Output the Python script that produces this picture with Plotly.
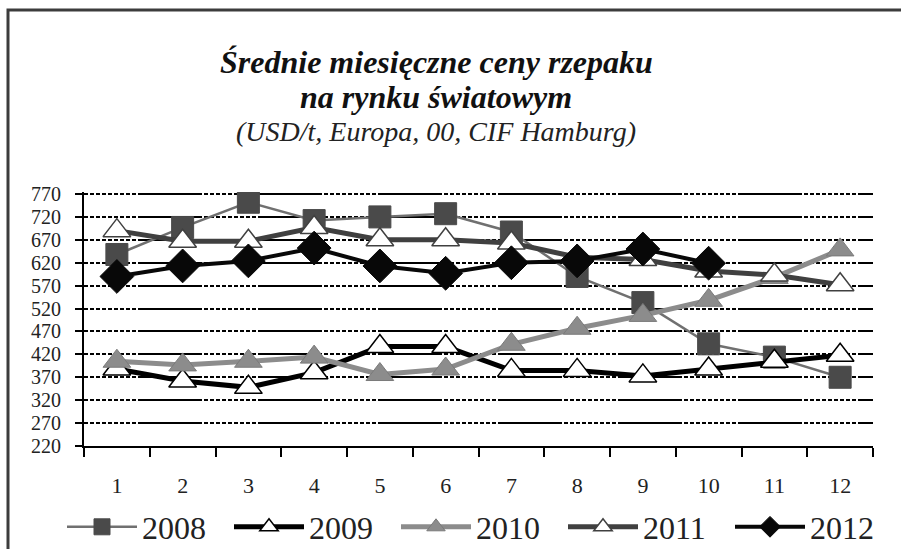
import plotly.graph_objects as go

months = list(range(1, 13))
month_labels = [str(m) for m in months]
y_ticks = [220, 270, 320, 370, 420, 470, 520, 570, 620, 670, 720, 770]

s2008 = [638, 697, 752, 712, 720, 727, 687, 590, 533, 443, 414, 370]
s2009 = [388, 362, 348, 380, 437, 437, 385, 385, 373, 388, 405, 418]
s2010 = [405, 397, 405, 414, 376, 388, 442, 477, 505, 538, 588, 648]
s2011 = [690, 667, 667, 697, 670, 670, 663, 632, 627, 602, 593, 572]
s2012 = [590, 613, 624, 652, 613, 597, 620, 624, 650, 619, None, None]

FONT = "Liberation Serif"

# plot area geometry (px)
L, R, T, B = 84, 28, 192, 103
W, H = 901, 549
PW = W - L - R
PH = H - T - B


def px_x(p):
    return (p - L) / PW


def px_y(q):
    return (H - B - q) / PH


fig = go.Figure()

fig.add_trace(go.Scatter(
    x=months, y=s2008, name="2008", mode="lines+markers",
    line=dict(color="#707070", width=2.5),
    marker=dict(symbol="square", size=22, color="#4a4a4a",
                line=dict(color="#4a4a4a", width=1))))
fig.add_trace(go.Scatter(
    x=months, y=s2009, name="2009", mode="lines+markers",
    line=dict(color="#000000", width=5),
    marker=dict(symbol="triangle-up", size=24, color="#ffffff",
                line=dict(color="#000000", width=1.5))))
fig.add_trace(go.Scatter(
    x=months, y=s2010, name="2010", mode="lines+markers",
    line=dict(color="#8c8c8c", width=5),
    marker=dict(symbol="triangle-up", size=24, color="#8c8c8c",
                line=dict(color="#7a7a7a", width=1))))
fig.add_trace(go.Scatter(
    x=months, y=s2011, name="2011", mode="lines+markers",
    line=dict(color="#404040", width=5),
    marker=dict(symbol="triangle-up", size=24, color="#ffffff",
                line=dict(color="#404040", width=1.5))))
fig.add_trace(go.Scatter(
    x=months, y=s2012, name="2012", mode="lines+markers",
    line=dict(color="#080808", width=4),
    marker=dict(symbol="diamond", size=26, color="#080808",
                line=dict(color="#080808", width=1))))

grid_dash = ",".join(["4px,2px"] * 9) + ",64px,2px"

fig.update_layout(
    width=W, height=H,
    margin=dict(l=L, r=R, t=T, b=B, autoexpand=False),
    paper_bgcolor="white", plot_bgcolor="white",
    font=dict(family=FONT, color="#222222"),
    showlegend=True,
    legend=dict(orientation="h", x=px_x(62), y=px_y(527),
                xanchor="left", yanchor="middle",
                font=dict(family=FONT, size=32, color="#222222"),
                itemwidth=70, entrywidth=82, tracegroupgap=0,
                bgcolor="rgba(0,0,0,0)"),
    xaxis=dict(
        range=[0.5, 12.5], tickmode="array", tickvals=months,
        ticktext=month_labels, ticks="", showgrid=False, zeroline=False,
        showline=True, linecolor="#000000", linewidth=2,
        tickfont=dict(family=FONT, size=22, color="#222222"),
        ticklabelstandoff=19,
        minor=dict(tickmode="array",
                   tickvals=[m - 0.5 for m in months] + [12.5],
                   ticks="outside", ticklen=9, tickwidth=2,
                   tickcolor="#000000", showgrid=False),
    ),
    yaxis=dict(
        range=[220, 220 + PH / (252 / 550)], tickmode="array",
        tickvals=y_ticks, ticktext=[str(v) for v in y_ticks],
        ticks="outside", ticklen=7, tickwidth=2, tickcolor="#000000",
        showline=True, linecolor="#000000", linewidth=2,
        showgrid=True, gridcolor="#000000", gridwidth=1.5,
        griddash=grid_dash, zeroline=False,
        tickfont=dict(family=FONT, size=20, color="#222222"),
        ticklabelstandoff=10,
    ),
)

title_x = px_x(436)
fig.add_annotation(text="<b><i>Średnie miesięczne ceny rzepaku</i></b>",
                   xref="paper", yref="paper", x=title_x, y=px_y(62),
                   xanchor="center", yanchor="middle", showarrow=False,
                   font=dict(family=FONT, size=32, color="#111111"))
fig.add_annotation(text="<b><i>na rynku światowym</i></b>",
                   xref="paper", yref="paper", x=title_x, y=px_y(97),
                   xanchor="center", yanchor="middle", showarrow=False,
                   font=dict(family=FONT, size=32, color="#111111"))
fig.add_annotation(text="<i>(USD/t, Europa, 00, CIF Hamburg)</i>",
                   xref="paper", yref="paper", x=title_x, y=px_y(131),
                   xanchor="center", yanchor="middle", showarrow=False,
                   font=dict(family=FONT, size=28, color="#222222"))

# outer frame (top and left edges visible in the reference)
fig.add_shape(type="rect", xref="paper", yref="paper",
              x0=px_x(8), x1=px_x(915), y0=px_y(565), y1=px_y(10),
              line=dict(color="#3c3c3c", width=3), fillcolor="rgba(0,0,0,0)",
              layer="below")

fig.write_html("out.html",
               config={"displayModeBar": False},
               post_script="document.body.style.margin='0px';"
                           "document.body.style.overflow='hidden';")
